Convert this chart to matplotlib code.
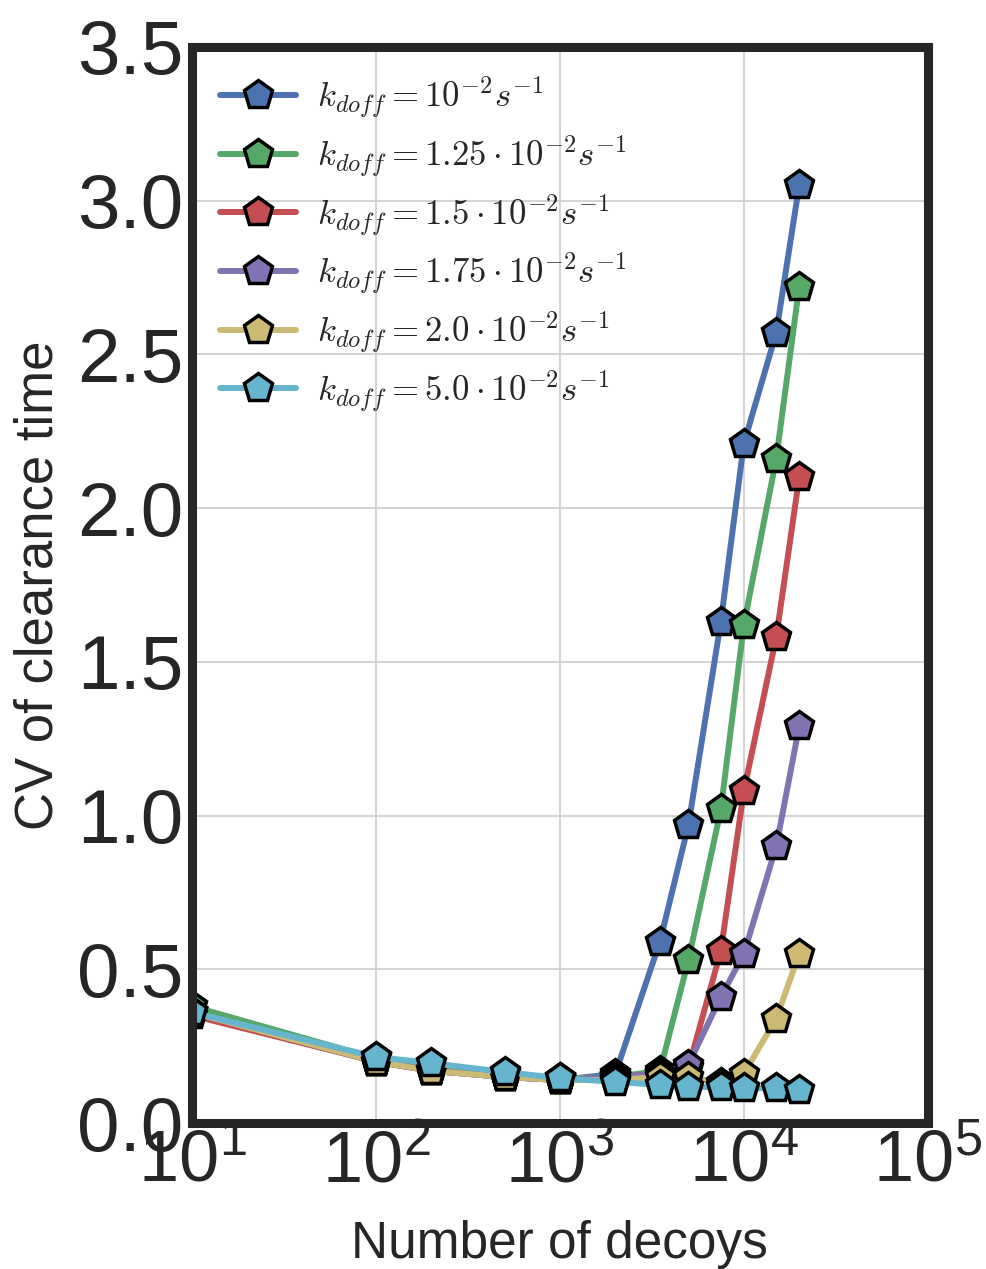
import matplotlib
matplotlib.use("Agg")
import matplotlib.pyplot as plt
from matplotlib.ticker import LogLocator
import seaborn as sns

sns.set_style("white")
plt.rcParams["font.family"] = ["Liberation Sans", "DejaVu Sans"]
plt.rcParams["mathtext.fontset"] = "cm"

# Number of decoys
decoys = [10, 100, 200, 500, 1000, 2000, 3500, 5000, 7500, 10000, 15000, 20000]

# CV of clearance time for each unbinding rate
cv_k100 = [0.36, 0.20, 0.17, 0.15, 0.14, 0.16, 0.59, 0.97, 1.63, 2.21, 2.57, 3.05]
cv_k125 = [0.38, 0.21, 0.18, 0.16, 0.145, 0.15, 0.17, 0.53, 1.02, 1.62, 2.16, 2.72]
cv_k150 = [0.35, 0.20, 0.17, 0.15, 0.14, 0.15, 0.16, 0.18, 0.56, 1.08, 1.58, 2.10]
cv_k175 = [0.36, 0.20, 0.17, 0.15, 0.14, 0.15, 0.16, 0.19, 0.41, 0.55, 0.90, 1.29]
cv_k200 = [0.36, 0.20, 0.17, 0.15, 0.14, 0.14, 0.15, 0.15, 0.13, 0.16, 0.34, 0.55]
cv_k500 = [0.36, 0.215, 0.195, 0.166, 0.146, 0.134, 0.124, 0.118, 0.117, 0.114, 0.114, 0.108]

labels = [
    r"$k_{doff}=10^{-2}s^{-1}$",
    r"$k_{doff}=1.25\cdot10^{-2}s^{-1}$",
    r"$k_{doff}=1.5\cdot10^{-2}s^{-1}$",
    r"$k_{doff}=1.75\cdot10^{-2}s^{-1}$",
    r"$k_{doff}=2.0\cdot10^{-2}s^{-1}$",
    r"$k_{doff}=5.0\cdot10^{-2}s^{-1}$",
]
series = [cv_k100, cv_k125, cv_k150, cv_k175, cv_k200, cv_k500]
colors = ["#4C72B0", "#55A868", "#C44E52", "#8172B2", "#CCB974", "#64B5CD"]

fig = plt.figure(figsize=(9.87, 12.69), dpi=100)
ax = fig.add_axes([0.1945, 0.115, 0.7455, 0.848])

for vals, lab, col in zip(series, labels, colors):
    ax.plot(decoys, vals, color=col, lw=4.3, marker="p", markersize=21,
            markeredgecolor="black", markeredgewidth=2.5, label=lab)

ax.set_xscale("log")
ax.set_xlim(10, 1e5)
ax.set_ylim(0, 3.5)
ax.xaxis.set_major_locator(LogLocator(base=10, numticks=10))
ax.set_yticks([0, 0.5, 1.0, 1.5, 2.0, 2.5, 3.0, 3.5])
ax.grid(True, color="#cccccc", lw=1.2)
ax.minorticks_off()

for s in ax.spines.values():
    s.set_linewidth(6.5)
    s.set_color("#262626")

ax.tick_params(axis="both", colors="#262626", length=0)
ax.tick_params(axis="x", labelsize=52, pad=4)
ax.tick_params(axis="y", labelsize=55, pad=6)

ax.set_xlabel("Number of decoys", fontsize=37, color="#262626", labelpad=17)
ax.set_ylabel("CV of clearance time", fontsize=38, color="#262626", labelpad=10)

leg = ax.legend(loc="upper left", fontsize=25, frameon=False, handlelength=2.2,
                labelspacing=0.38, borderaxespad=0.4, handletextpad=0.6)

fig.savefig("out.png", dpi=100)
